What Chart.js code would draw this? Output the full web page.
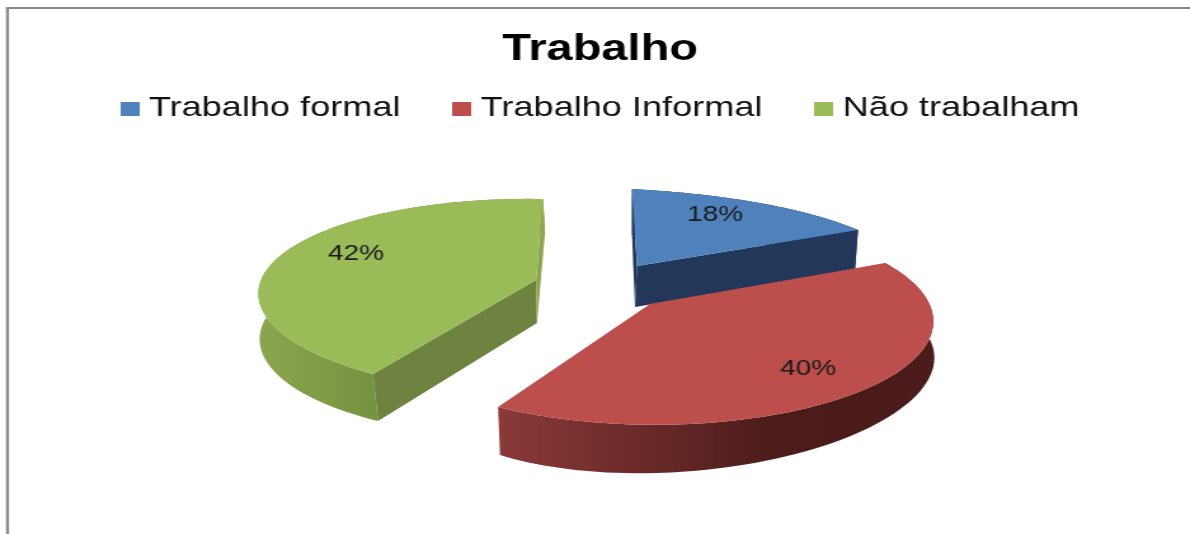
<!DOCTYPE html>
<html><head><meta charset="utf-8">
<style>
html,body{margin:0;padding:0;background:#fff;overflow:hidden;width:1190px;height:534px}
#wrap{width:1190px;height:534px;overflow:hidden}
canvas{transform:scale(1.27,1);transform-origin:0 0;display:block}
</style>
<script src="https://cdn.jsdelivr.net/npm/chart.js@4/dist/chart.umd.min.js"></script>
</head><body><div id="wrap"><canvas id="c" width="937" height="534"></canvas></div>
<script>
const chartTitle = 'Trabalho';
const categories = ['Trabalho formal', 'Trabalho Informal', 'Não trabalham'];
const shares = [18, 40, 42];
const sliceColors = ['#4f81bd', '#bc4e4b', '#9bbb59'];

// Horizontal stretch of the whole picture, and 3D look of each slice (picture pixels).
const SX = 1.27;
const sliceViews = [
  { top:{c:[637,266],s:[632,189],m:[765,204],e:[858,230]},
    bottom:{c:[635,307],s:[632,235],m:[765,245],e:[855,270]},
    wall:[[0,'#22375a'],[1,'#22375a']], wallX:[632,858], faceStart:'#22375a', faceEnd:'#22375a', label:[715,215] },
  { top:{c:[650,304],s:[885,263],m:[868,388],e:[498,407]},
    bottom:{c:[650,352],s:[880,300],m:[862,431],e:[500,455]},
    wall:[[0,'#8b3a38'],[0.63,'#4c1c1b'],[1,'#4a1b1a']], wallX:[498,937], faceStart:null, faceEnd:null, label:[808,369] },
  { top:{c:[536,280],s:[373,374],m:[285,252],e:[543,199]},
    bottom:{c:[537,323],s:[378,421],m:[281,300],e:[545,233]},
    wall:[[0,'#8aa64e'],[1,'#78913f']], wallX:[258,378], faceStart:'#6e8340', faceEnd:'#8ba64f', label:[356,254] }
];
const drawOrder = [0, 2, 1];

function solve(A, b){
  const n=b.length, M=A.map((r,i)=>[...r,b[i]]);
  for(let i=0;i<n;i++){
    let p=i; for(let r=i+1;r<n;r++) if(Math.abs(M[r][i])>Math.abs(M[p][i])) p=r;
    [M[i],M[p]]=[M[p],M[i]];
    for(let r=0;r<n;r++){ if(r===i) continue; const f=M[r][i]/M[i][i];
      for(let k=i;k<=n;k++) M[r][k]-=f*M[i][k]; }
  }
  return M.map((r,i)=>r[n]/r[i]);
}
// Projective map from the unit disc of a pie slice to the picture.
function projection(from, to){
  const A=[], b=[];
  from.forEach(([x,y],i)=>{ const [X,Y]=to[i];
    A.push([x,y,1,0,0,0,-x*X,-y*X]); b.push(X);
    A.push([0,0,0,x,y,1,-x*Y,-y*Y]); b.push(Y); });
  const h=solve(A,b);
  return (x,y)=>{ const w=h[6]*x+h[7]*y+1; return [(h[0]*x+h[1]*y+h[2])/w/SX,(h[3]*x+h[4]*y+h[5])/w]; };
}
function poly(ctx, pts, fill){
  ctx.beginPath(); pts.forEach((p,i)=> i?ctx.lineTo(p[0],p[1]):ctx.moveTo(p[0],p[1]));
  ctx.closePath(); ctx.fillStyle=fill; ctx.fill();
}
const projectedPie = {
  id:'projectedPie',
  afterLayout(chart){
    chart.legend.left+=3.5; chart.legend.right+=3.5;
  },
  beforeDraw(chart){
    const ctx=chart.ctx;
    ctx.save(); ctx.fillStyle='#8a8a8a';
    ctx.fillRect(6/SX,7,3/SX,chart.height-7);
    ctx.fillRect(6/SX,7,chart.width,2);
    ctx.restore();
  },
  beforeDatasetsDraw(chart){
    const ctx=chart.ctx, arcs=chart.getDatasetMeta(0).data;
    ctx.save();
    drawOrder.forEach(i=>{
      const arc=arcs[i], v=sliceViews[i];
      const a0=arc.startAngle, a1=arc.endAngle, am=(a0+a1)/2;
      const disc=[[0,0],[Math.cos(a0),Math.sin(a0)],[Math.cos(am),Math.sin(am)],[Math.cos(a1),Math.sin(a1)]];
      const keys=t=>[t.c,t.s,t.m,t.e];
      const T=projection(disc,keys(v.top)), B=projection(disc,keys(v.bottom));
      const rim=f=>{const o=[];for(let k=0;k<=80;k++){const a=a0+(a1-a0)*k/80;o.push(f(Math.cos(a),Math.sin(a)));}return o;};
      const topRim=rim(T), botRim=rim(B);
      const g=ctx.createLinearGradient(v.wallX[0]/SX,0,v.wallX[1]/SX,0);
      v.wall.forEach(s=>g.addColorStop(s[0],s[1]));
      poly(ctx,[...topRim,...botRim.slice().reverse()],g);
      const C=T(0,0), Cb=B(0,0);
      if(v.faceStart) poly(ctx,[C,topRim[0],botRim[0],Cb],v.faceStart);
      if(v.faceEnd) poly(ctx,[C,topRim[80],botRim[80],Cb],v.faceEnd);
      poly(ctx,[C,...topRim],arc.options.backgroundColor);
    });
    ctx.fillStyle='#1a1a1a'; ctx.font='22px "Liberation Sans"';
    ctx.textAlign='center'; ctx.textBaseline='middle';
    shares.forEach((s,i)=>ctx.fillText(s+'%',sliceViews[i].label[0]/SX,sliceViews[i].label[1]));
    ctx.restore();
    return false;
  }
};
function swatch(color){
  const c=document.createElement('canvas'); c.width=15; c.height=14;
  const x=c.getContext('2d'); x.fillStyle=color; x.fillRect(0,0,15,14); return c;
}
new Chart(document.getElementById('c'),{
  type:'pie',
  data:{labels:categories,datasets:[{data:shares,backgroundColor:sliceColors,borderWidth:0}]},
  options:{
    responsive:false, animation:false,
    layout:{padding:{left:8}},
    plugins:{
      tooltip:{enabled:false},
      title:{display:true,text:chartTitle,color:'#000',
        font:{family:'"Liberation Sans"',size:37,weight:'bold'},padding:{top:28,bottom:-26}},
      legend:{position:'top',
        labels:{color:'#111',font:{family:'"Liberation Sans"',size:28.45},padding:48,
          usePointStyle:true,pointStyleWidth:1,boxHeight:14,
          generateLabels(chart){
            const items=Chart.overrides.doughnut.plugins.legend.labels.generateLabels(chart);
            items.forEach(it=>{it.pointStyle=swatch(it.fillStyle);});
            return items;
          }}}
    }
  },
  plugins:[projectedPie]
});
</script></body></html>
